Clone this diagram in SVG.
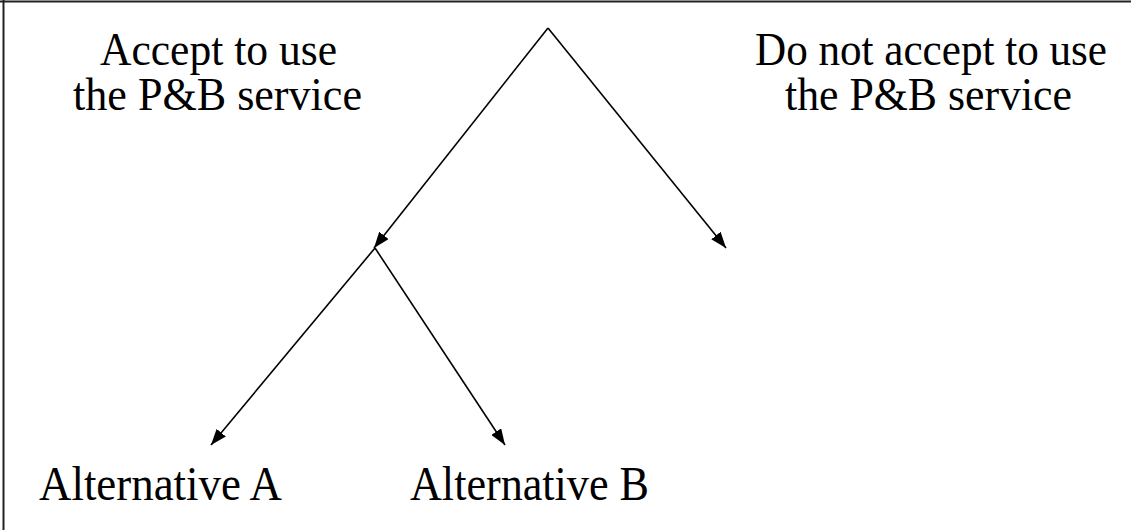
<svg xmlns="http://www.w3.org/2000/svg" width="1131" height="530" viewBox="0 0 1131 530">
<defs>
<style>
.lbl{font-family:"Liberation Serif","Times New Roman",serif;font-size:46px;fill:#000}
.alt{font-family:"Liberation Serif","Times New Roman",serif;font-size:48px;fill:#000}
.edge{stroke:#000;stroke-width:1.6;fill:none;marker-end:url(#ah)}
</style>
<marker id="ah" viewBox="0 0 16 12" refX="16" refY="6" markerWidth="16" markerHeight="12" markerUnits="userSpaceOnUse" orient="auto">
<path d="M0,0 L16,6 L0,12 z" fill="#000"/>
</marker>
</defs>
<rect x="0" y="0" width="1131" height="530" fill="#fff"/>
<g id="frame">
<line x1="0" y1="1.5" x2="1131" y2="1.5" stroke="#222" stroke-width="2"/>
<line x1="3.5" y1="0" x2="3.5" y2="530" stroke="#222" stroke-width="2"/>
</g>
<g id="connectors">
<path class="edge" d="M548,28 L374,248"/>
<path class="edge" d="M548,28 L726,248"/>
<path class="edge" d="M375,248 L211,445"/>
<path class="edge" d="M375,248 L505,445"/>
</g>
<g id="accept">
<text class="lbl"><tspan x="100" y="65" textLength="237" lengthAdjust="spacingAndGlyphs">Accept to use</tspan><tspan x="73" y="110" textLength="289" lengthAdjust="spacingAndGlyphs">the P&amp;B service</tspan></text>
</g>
<g id="reject">
<text class="lbl"><tspan x="755" y="65" textLength="352" lengthAdjust="spacingAndGlyphs">Do not accept to use</tspan><tspan x="785" y="110" textLength="287" lengthAdjust="spacingAndGlyphs">the P&amp;B service</tspan></text>
</g>
<g id="altA">
<text class="alt" x="39" y="500" textLength="243" lengthAdjust="spacingAndGlyphs">Alternative A</text>
</g>
<g id="altB">
<text class="alt" x="410" y="500" textLength="239" lengthAdjust="spacingAndGlyphs">Alternative B</text>
</g>
</svg>
